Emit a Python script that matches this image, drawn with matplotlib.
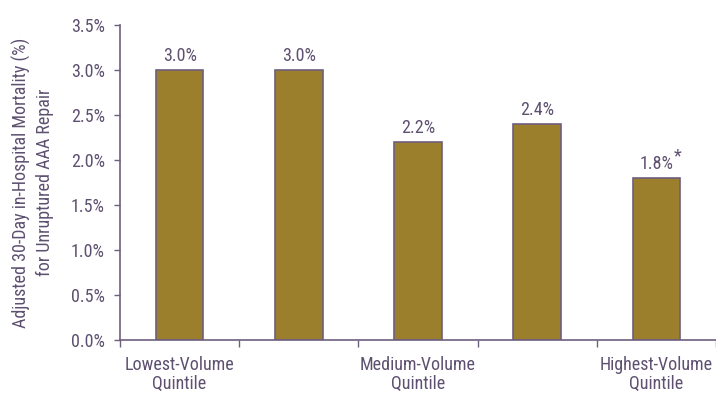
import matplotlib
matplotlib.use("Agg")
import matplotlib.pyplot as plt

quintiles = ["Q1", "Q2", "Q3", "Q4", "Q5"]
mortality = [3.0, 3.0, 2.2, 2.4, 1.8]
value_labels = ["3.0%", "3.0%", "2.2%", "2.4%", "1.8%"]
value_marks = ["", "", "", "", "*"]
group_labels = {0: "Lowest-Volume\nQuintile", 2: "Medium-Volume\nQuintile", 4: "Highest-Volume\nQuintile"}
yticks = [0.0, 0.5, 1.0, 1.5, 2.0, 2.5, 3.0, 3.5]

plt.rcParams["font.family"] = ["Roboto Condensed", "DejaVu Sans"]

bar_color = "#9b7f2c"
edge_color = "#6e5f7e"
text_color = "#5e5070"
fs = 13

W, H = 716, 393
fig = plt.figure(figsize=(W / 100, H / 100), dpi=100)
ax = fig.add_axes([120 / W, (H - 340) / H, (716 - 120) / W, (340 - 25) / H])

x = list(range(len(quintiles)))
ax.bar(x, mortality, width=0.4, color=bar_color, edgecolor=edge_color, linewidth=1.2, zorder=2)

for xi, v, lab, mark in zip(x, mortality, value_labels, value_marks):
    t = ax.text(xi, v + 0.06, lab, ha="center", va="bottom", fontsize=fs, color=text_color)
    if mark:
        ax.annotate(mark, xy=(1, 1), xycoords=t, xytext=(0.5, 5), textcoords="offset points",
                    ha="left", va="top", fontsize=fs, color=text_color)

ax.set_xlim(-0.5, 4.47)
ax.set_ylim(0, 3.5)
ax.set_yticks(yticks)
ax.set_yticklabels([f"{t:.1f}%" for t in yticks])
ax.set_xticks([i - 0.5 for i in range(6)])
ax.set_xticklabels([])

for i, lab in group_labels.items():
    ax.text(i, -0.18, lab, ha="center", va="top", fontsize=fs, color=text_color,
            linespacing=1.05)

for side in ("top", "right"):
    ax.spines[side].set_visible(False)
for side in ("left", "bottom"):
    ax.spines[side].set_color(edge_color)
    ax.spines[side].set_linewidth(1.2)

ax.tick_params(axis="y", direction="out", length=4, width=1.0, colors=edge_color,
               labelcolor=text_color, labelsize=fs, pad=7)
ax.tick_params(axis="x", direction="out", length=5, width=1.0, colors=edge_color)

ax.set_ylabel("Adjusted 30-Day in-Hospital Mortality (%)\nfor Unruptured AAA Repair",
              fontsize=fs, color=text_color, linespacing=1.35, labelpad=12)

fig.savefig("out.png", dpi=100)
